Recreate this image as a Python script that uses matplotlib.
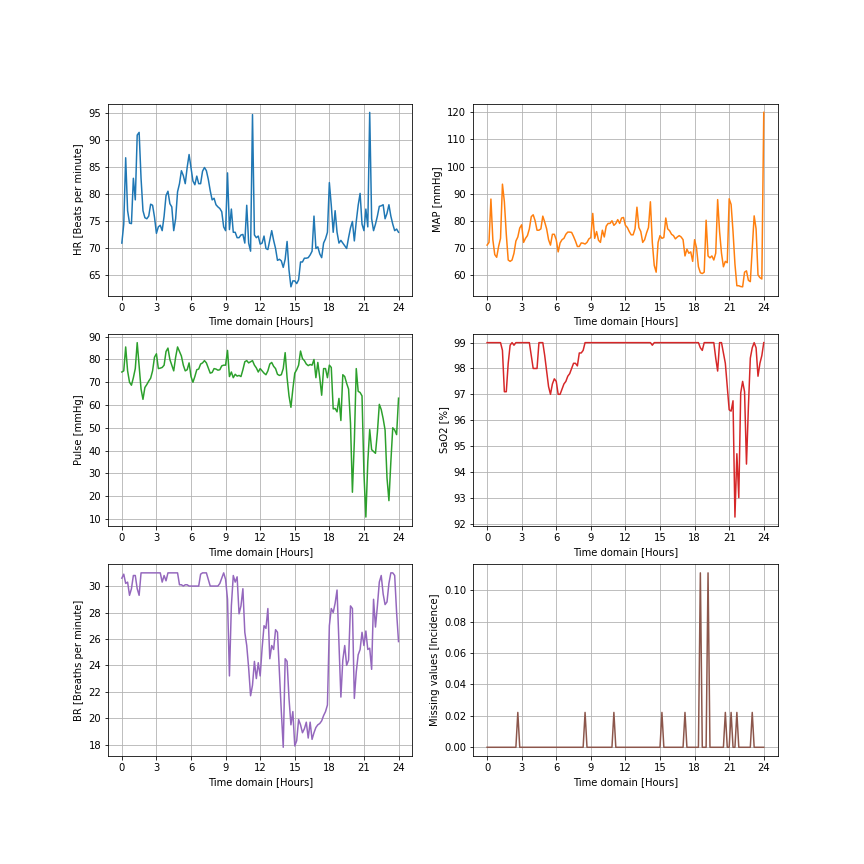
import numpy as np
import matplotlib
matplotlib.use("Agg")
import matplotlib.pyplot as plt

# time axis: 10-minute samples over 24 hours
hours = np.linspace(0, 24, 145)
xticks = [0, 3, 6, 9, 12, 15, 18, 21, 24]

hr = [71, 74.5, 86.8, 77, 74.7, 74.6, 83, 79, 91, 91.5,
      83, 77, 75.7, 75.5, 76, 78.2, 78, 75.8, 72.8, 74,
      74.3, 73.3, 76, 79.8, 80.6, 78.3, 77.7, 73.3, 75.5, 80.5,
      82, 84.4, 83.5, 82, 85, 87.4, 85, 82.5, 81.8, 83.4,
      82, 82, 84.3, 85, 84.4, 82.8, 80.7, 79, 79.3, 78.1,
      77.7, 77.4, 76.8, 74, 73.3, 84, 73.5, 77.3, 73, 73,
      72, 72, 72.5, 72.6, 71, 78, 71, 69.5, 94.8, 72.5,
      72, 72.3, 70.8, 71, 72.3, 70, 69.8, 71.5, 73.3, 71.5,
      70, 67.8, 68, 67.7, 66.5, 68, 71.3, 66, 62.9, 64,
      64, 63.5, 64.2, 67.5, 67.5, 68.2, 68.2, 68.3, 68.8, 69.5,
      76, 70, 70.3, 69, 68.3, 71, 71.8, 73, 82.2, 78,
      73, 77, 73, 71, 71.5, 71, 70.5, 70, 72, 73.8,
      75, 71.4, 75, 78, 80.2, 74.5, 73.3, 77.3, 74, 95.2,
      75.5, 73.3, 74.5, 76, 77.8, 77.9, 78.1, 75.5, 76.5, 78.1,
      76, 74.5, 73.3, 73.6, 73]

map_ = [71, 72, 88, 73, 67.5, 66.5, 70.5, 73.5, 93.5, 87,
        75, 65.5, 65, 65.5, 68, 72.5, 74, 77.3, 78.5, 72,
        73.5, 74.5, 77, 81.5, 82.2, 80, 76.5, 76.5, 77, 81.7,
        79.5, 77, 73, 71, 75, 75, 73, 68.5, 71.8, 73,
        73.5, 75, 75.8, 75.8, 75.7, 74.2, 72.5, 70.5, 70.5, 71.8,
        71.7, 71.4, 72, 73.3, 73.8, 82.7, 73.5, 76, 72.8, 72,
        76.5, 74, 78, 79, 79, 80, 78.3, 79, 80.4, 79,
        81, 81.2, 78.3, 77.5, 76, 74.8, 74.8, 77, 85, 77.5,
        76, 72, 73, 75.5, 77.5, 87, 72, 63.5, 61, 72,
        74.5, 73.5, 73.8, 81, 77, 76.3, 75, 74.5, 73.3, 74,
        74.5, 74, 73, 67, 69.5, 68, 68.5, 65, 73, 70,
        63, 60.8, 60.5, 61, 80.2, 67, 66.3, 67, 65.5, 68,
        87.8, 76, 68, 63, 65, 64.5, 88.1, 86, 76, 64,
        56, 56, 55.7, 55.6, 61, 61.5, 58, 57.5, 70, 81.8,
        77, 60, 59, 58.5, 120]

pulse = [74.5, 75, 85.5, 75, 70, 68.7, 72, 76, 87.4, 77,
         67, 62.5, 67.7, 69, 70.5, 71.8, 75, 81, 82.5, 76,
         76.2, 76.5, 77.5, 83.5, 85, 80, 77.5, 75, 81, 85.5,
         83.5, 81.5, 77.5, 75, 75.5, 78.5, 72.5, 70, 72.5, 75.5,
         75.8, 78, 78.5, 79.5, 78.5, 76.2, 74, 74.3, 76, 75.8,
         75.3, 75.5, 77.2, 77.5, 77.5, 84, 72.5, 74.5, 72, 73.5,
         72.7, 73, 72.5, 75.5, 79, 79.5, 78.5, 79, 79.5, 77.5,
         76.3, 74.5, 76, 75, 74, 73.3, 75, 78, 78.7, 77,
         76, 73.5, 73, 73.3, 76, 83, 72, 64, 59, 67,
         74, 75.5, 77.5, 83.7, 80.4, 79.5, 78, 77.3, 77.8, 77.5,
         80, 72, 78.7, 72, 64.3, 76, 76, 72, 77.5, 76.5,
         58.3, 58.5, 57, 62.9, 53.2, 73.3, 72.5, 69.5, 67, 52,
         21.7, 44, 76, 66, 65.5, 64, 30, 10.8, 35, 49.2,
         40.4, 39.6, 38.8, 48, 60.3, 58, 54, 49, 28, 18,
         35, 50, 49, 47, 63]

sao2 = [99, 99, 99, 99, 99, 99, 99, 99, 98.7, 97.1,
        97.1, 98.2, 98.9, 99, 98.9, 99, 99, 99, 99, 99,
        99, 99, 99, 98.5, 98, 98, 98, 99, 99, 99,
        98.5, 97.9, 97.3, 97, 97.4, 97.6, 97.5, 97, 97, 97.2,
        97.4, 97.5, 97.7, 97.8, 98, 98.2, 98.2, 98.1, 98.6, 98.6,
        98.7, 99, 99, 99, 99, 99, 99, 99, 99, 99,
        99, 99, 99, 99, 99, 99, 99, 99, 99, 99,
        99, 99, 99, 99, 99, 99, 99, 99, 99, 99,
        99, 99, 99, 99, 99, 99, 98.9, 99, 99, 99,
        99, 99, 99, 99, 99, 99, 99, 99, 99, 99,
        99, 99, 99, 99, 99, 99, 99, 99, 99, 99,
        99, 98.8, 98.7, 99, 99, 99, 99, 99, 99, 98.4,
        97.9, 99, 99, 98.6, 98.2, 97.3, 96.4, 96.35, 96.75, 92.25,
        94.7, 93.0, 97.05, 97.5, 97.1, 94.3, 96.5, 98.4, 98.8, 99,
        98.8, 97.7, 98.2, 98.5, 99]

br = [30.6, 30.9, 30.2, 30.3, 29.3, 29.8, 30.8, 30.8, 29.8, 29.3,
      31, 31, 31, 31, 31, 31, 31, 31, 31, 31,
      31, 30.3, 30.8, 30.4, 31, 31, 31, 31, 31, 31,
      30.1, 30.1, 30, 30.1, 30.1, 30, 30, 30, 30, 30,
      30, 30.9, 31, 31, 31, 30.5, 30, 30, 30, 30,
      30, 30.2, 30.6, 31, 30.5, 29, 23.2, 28.5, 30.8, 30.3,
      30.7, 27.9, 28.5, 29.8, 26.5, 25.5, 23.8, 21.7, 22.5, 24.3,
      23, 24.2, 23.2, 25.3, 27, 26.8, 28.3, 24.5, 25.5, 25.2,
      26.7, 26.5, 23.5, 20.5, 17.8, 24.5, 24.3, 21.5, 19.5, 20.5,
      17.9, 18.3, 19.9, 19.5, 18.9, 19.2, 19.7, 18.5, 19.7, 18.4,
      18.9, 19.3, 19.5, 19.6, 19.8, 20.2, 20.5, 21, 27, 28.3,
      28, 28.7, 29.7, 25.7, 21.6, 24.4, 25.5, 24, 24.4, 28.5,
      28.3, 21.5, 23.5, 24.8, 25.2, 26.5, 25.5, 26.6, 25.2, 25.3,
      23.7, 29, 26.9, 28.5, 30.3, 30.8, 29.4, 28.6, 28.8, 30.2,
      31, 31, 30.8, 28, 25.8]

missing = [0, 0, 0, 0, 0, 0, 0, 0, 0, 0,
           0, 0, 0, 0, 0, 0, 0.0222, 0, 0, 0,
           0, 0, 0, 0, 0, 0, 0, 0, 0, 0,
           0, 0, 0, 0, 0, 0, 0, 0, 0, 0,
           0, 0, 0, 0, 0, 0, 0, 0, 0, 0,
           0, 0.0222, 0, 0, 0, 0, 0, 0, 0, 0,
           0, 0, 0, 0, 0, 0, 0.0222, 0, 0, 0,
           0, 0, 0, 0, 0, 0, 0, 0, 0, 0,
           0, 0, 0, 0, 0, 0, 0, 0, 0, 0,
           0, 0.0222, 0, 0, 0, 0, 0, 0, 0, 0,
           0, 0, 0, 0.0222, 0, 0, 0, 0, 0, 0,
           0, 0.1111, 0, 0, 0, 0.1111, 0, 0, 0, 0,
           0, 0, 0, 0, 0.0222, 0, 0, 0.0222, 0, 0,
           0.0222, 0, 0, 0, 0, 0, 0, 0, 0.0222, 0,
           0, 0, 0, 0, 0]

series = [
    (hr, "HR [Beats per minute]", "C0"),
    (map_, "MAP [mmHg]", "C1"),
    (pulse, "Pulse [mmHg]", "C2"),
    (sao2, "SaO2 [%]", "C3"),
    (br, "BR [Breaths per minute]", "C4"),
    (missing, "Missing values [Incidence]", "C5"),
]

fig, axes = plt.subplots(3, 2, figsize=(12, 12), dpi=72)
fig.subplots_adjust(left=0.125, right=0.9, top=0.88, bottom=0.125,
                    wspace=0.2, hspace=0.2)

for ax, (vals, label, color) in zip(axes.flat, series):
    ax.plot(hours, vals, color=color)
    ax.set_xticks(xticks)
    ax.set_xlabel("Time domain [Hours]")
    ax.set_ylabel(label)
    ax.grid(True)

fig.savefig("out.png", dpi=72)
